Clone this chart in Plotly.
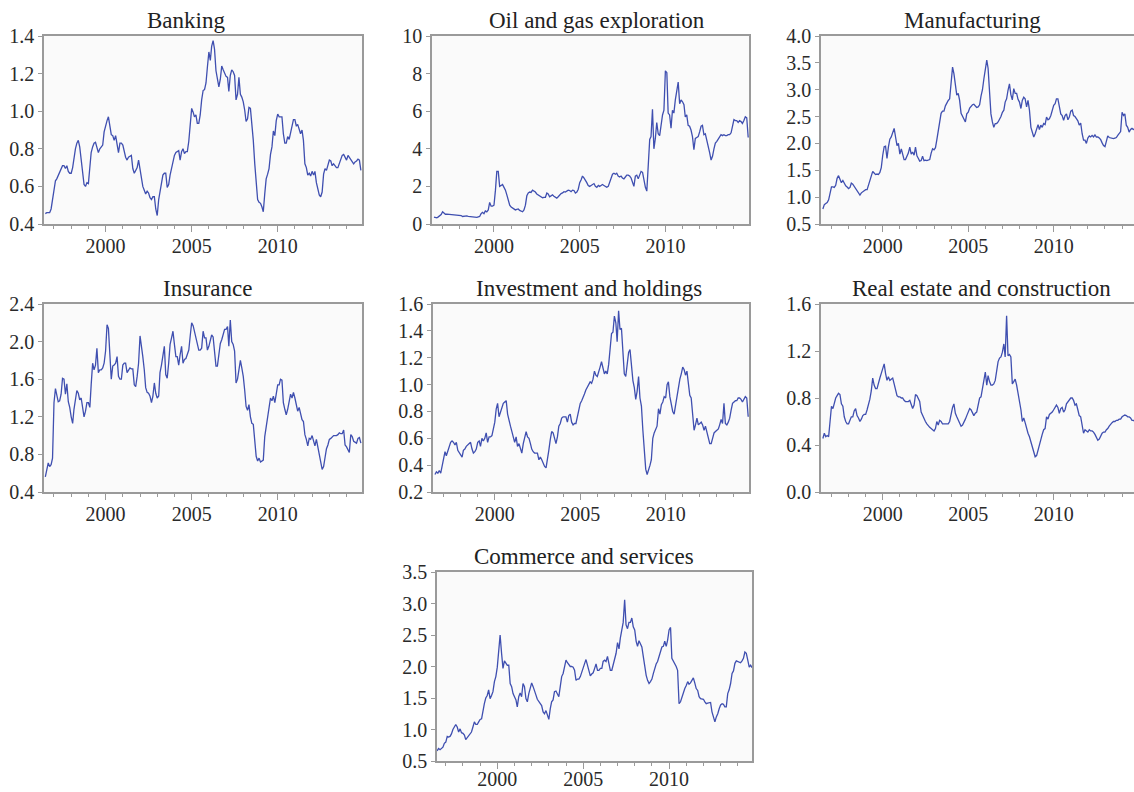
import pandas as pd
import plotly.graph_objects as go

# ---------------- data (monthly, Jul 1996 - Nov 2014) ----------------
start_month = "1996-07-01"

banking = [
    0.455, 0.46, 0.46, 0.46, 0.48, 0.53,
    0.58, 0.63, 0.64, 0.66, 0.67, 0.70, 0.71, 0.71, 0.695, 0.71, 0.68, 0.67,
    0.67, 0.70, 0.76, 0.80, 0.83, 0.845, 0.81, 0.75, 0.66, 0.61, 0.60, 0.62,
    0.615, 0.685, 0.78, 0.81, 0.83, 0.835, 0.80, 0.78, 0.80, 0.81, 0.82, 0.89,
    0.925, 0.95, 0.97, 0.915, 0.875, 0.87, 0.845, 0.87, 0.81, 0.78, 0.83, 0.83,
    0.82, 0.785, 0.755, 0.74, 0.755, 0.76, 0.765, 0.695, 0.67, 0.685, 0.70, 0.74,
    0.69, 0.64, 0.60, 0.58, 0.56, 0.575, 0.565, 0.54, 0.53, 0.545, 0.545, 0.48,
    0.445, 0.53, 0.57, 0.62, 0.66, 0.67, 0.67, 0.595, 0.61, 0.66, 0.70, 0.73,
    0.765, 0.78, 0.785, 0.79, 0.74, 0.785, 0.80, 0.775, 0.785, 0.785, 0.84, 0.935,
    1.015, 0.995, 0.97, 0.98, 0.935, 0.935, 0.98, 1.06, 1.11, 1.115, 1.15, 1.235,
    1.315, 1.27, 1.345, 1.375, 1.33, 1.215, 1.165, 1.13, 1.17, 1.24, 1.22, 1.20,
    1.185, 1.18, 1.105, 1.19, 1.22, 1.21, 1.19, 1.06, 1.09, 1.18, 1.09, 1.075,
    1.05, 1.005, 0.945, 0.96, 1.02, 1.015, 0.935, 0.845, 0.72, 0.605, 0.53, 0.515,
    0.51, 0.49, 0.465, 0.56, 0.64, 0.665, 0.695, 0.77, 0.81, 0.895, 0.87, 0.95,
    0.985, 0.97, 0.97, 0.97, 0.88, 0.83, 0.83, 0.865, 0.85, 0.88, 0.915, 0.955,
    0.955, 0.92, 0.93, 0.90, 0.88, 0.90, 0.845, 0.72, 0.70, 0.66, 0.67, 0.655,
    0.68, 0.66, 0.68, 0.62, 0.58, 0.555, 0.545, 0.57, 0.665, 0.695, 0.685, 0.72,
    0.74, 0.735, 0.71, 0.72, 0.71, 0.70, 0.70, 0.72, 0.745, 0.765, 0.77, 0.75,
    0.74, 0.765, 0.755, 0.74, 0.735, 0.72, 0.73, 0.735, 0.745, 0.74, 0.685,
]

oil_gas = [
    0.37, 0.33, 0.33, 0.38, 0.45, 0.50,
    0.65, 0.55, 0.52, 0.53, 0.52, 0.50, 0.50, 0.49, 0.48, 0.48, 0.47, 0.45,
    0.42, 0.45, 0.40, 0.42, 0.44, 0.43, 0.41, 0.40, 0.38, 0.37, 0.38, 0.38,
    0.35, 0.38, 0.40, 0.55, 0.62, 0.55, 0.70, 0.65, 0.75, 1.15, 0.95, 0.95,
    1.0, 1.8, 2.8, 2.8, 2.0, 2.05, 2.1, 1.95, 1.8, 1.55, 1.3, 1.0,
    0.90, 0.85, 0.80, 0.75, 0.78, 0.80, 0.72, 0.70, 0.65, 0.75, 1.0, 1.5,
    1.65, 1.70, 1.68, 1.80, 1.75, 1.70, 1.60, 1.55, 1.50, 1.45, 1.40, 1.42,
    1.42, 1.65, 1.60, 1.45, 1.52, 1.55, 1.48, 1.42, 1.38, 1.45, 1.55, 1.62,
    1.65, 1.72, 1.70, 1.75, 1.80, 1.78, 1.72, 1.80, 1.78, 1.65, 1.70, 1.85,
    2.2, 2.35, 2.55, 2.45, 2.35, 2.2, 2.05, 2.0, 2.05, 2.1, 2.15, 2.0,
    1.95, 2.05, 2.0, 2.05, 2.1, 2.05, 2.0, 1.95, 2.0, 2.2, 2.35, 2.65,
    2.7, 2.65, 2.7, 2.55, 2.5, 2.55, 2.45, 2.4, 2.5, 2.6, 2.6, 2.55,
    2.45, 2.2, 2.0, 2.55, 2.6, 2.4, 2.65, 2.8, 2.75, 2.3, 1.95, 1.75,
    3.0, 4.5, 4.65, 6.1, 4.0, 4.55, 5.4, 4.8, 4.7, 5.35, 5.8, 6.05,
    8.15, 8.05, 5.9, 5.8, 5.1, 6.05, 5.9, 6.6, 7.1, 7.55, 6.4, 6.6,
    6.5, 6.35, 5.7, 5.8, 5.25, 5.2, 5.0, 4.65, 3.95, 4.55, 4.6, 4.65,
    4.9, 5.2, 5.25, 4.75, 4.8, 4.5, 4.1, 3.8, 3.4, 3.6, 4.0, 4.3,
    4.4, 4.55, 4.6, 4.75, 4.7, 4.75, 4.7, 4.7, 4.75, 4.75, 4.85, 5.25,
    5.55, 5.5, 5.5, 5.4, 5.5, 5.45, 5.35, 5.5, 5.7, 5.65, 4.6,
]

manufacturing = [
    0.78, 0.86, 0.88, 0.90, 0.95, 1.08,
    1.19, 1.19, 1.18, 1.22, 1.35, 1.40, 1.32, 1.27, 1.31, 1.25, 1.21, 1.19,
    1.16, 1.18, 1.26, 1.24, 1.20, 1.17, 1.13, 1.10, 1.04, 1.08, 1.10, 1.13,
    1.14, 1.14, 1.22, 1.31, 1.40, 1.48, 1.45, 1.42, 1.43, 1.42, 1.46, 1.55,
    1.78, 1.94, 1.95, 1.72, 1.93, 2.08, 2.12, 2.21, 2.28, 2.12, 1.96, 2.00,
    1.80, 1.90, 1.81, 1.70, 1.70, 1.75, 1.82, 1.93, 1.80, 1.84, 1.78, 1.93,
    1.77, 1.72, 1.67, 1.68, 1.76, 1.68, 1.69, 1.68, 1.69, 1.70, 1.82, 1.90,
    1.88, 1.92, 2.06, 2.24, 2.40, 2.56, 2.60, 2.60, 2.70, 2.76, 2.80, 2.83,
    3.08, 3.42, 3.30, 3.10, 2.90, 2.93, 2.80, 2.56, 2.50, 2.46, 2.40, 2.55,
    2.58, 2.66, 2.70, 2.72, 2.73, 2.70, 2.67, 2.68, 2.72, 2.88, 3.00, 3.20,
    3.36, 3.55, 3.40, 3.00, 2.55, 2.40, 2.30, 2.37, 2.37, 2.40, 2.44, 2.50,
    2.58, 2.62, 2.77, 2.83, 2.99, 3.11, 2.91, 2.81, 3.02, 2.93, 2.93, 2.82,
    2.77, 2.65, 2.80, 2.86, 2.83, 2.68, 2.80, 2.62, 2.30, 2.18, 2.12, 2.18,
    2.27, 2.35, 2.26, 2.34, 2.30, 2.37, 2.35, 2.49, 2.44, 2.46, 2.52, 2.60,
    2.71, 2.74, 2.83, 2.83, 2.71, 2.55, 2.52, 2.43, 2.52, 2.55, 2.44, 2.49,
    2.60, 2.62, 2.52, 2.50, 2.46, 2.42, 2.34, 2.38, 2.18, 2.06, 2.06, 2.00,
    2.10, 2.14, 2.12, 2.15, 2.12, 2.16, 2.12, 2.12, 2.10, 2.07, 2.01, 1.96,
    1.94, 2.05, 2.14, 2.11, 2.10, 2.09, 2.09, 2.10, 2.11, 2.15, 2.20, 2.22,
    2.58, 2.52, 2.55, 2.34, 2.30, 2.21, 2.26, 2.28, 2.26, 2.27, 2.28,
]

insurance = [
    0.56, 0.66, 0.71, 0.67, 0.69, 0.76,
    1.35, 1.50, 1.42, 1.36, 1.37, 1.44, 1.61, 1.60, 1.44, 1.55, 1.36, 1.30,
    1.20, 1.13, 1.28, 1.40, 1.48, 1.45, 1.38, 1.40, 1.31, 1.20, 1.26, 1.35,
    1.35, 1.30, 1.54, 1.77, 1.70, 1.75, 1.93, 1.67, 1.70, 1.70, 1.72, 1.77,
    1.90, 2.18, 2.14, 1.88, 1.60, 1.74, 1.75, 1.77, 1.84, 1.63, 1.60, 1.60,
    1.75, 1.77, 1.77, 1.67, 1.70, 1.72, 1.71, 1.71, 1.54, 1.52, 1.63, 1.77,
    2.06, 1.96, 1.84, 1.70, 1.51, 1.46, 1.45, 1.42, 1.35, 1.42, 1.56, 1.45,
    1.40, 1.42, 1.67, 1.75, 1.86, 1.95, 1.65, 1.61, 1.77, 1.97, 2.04, 2.11,
    1.97, 1.84, 1.84, 1.75, 1.86, 1.95, 1.77, 1.81, 1.82, 1.86, 1.91, 2.06,
    2.20, 2.17, 2.11, 2.04, 2.00, 1.91, 1.91, 1.93, 2.11, 2.04, 2.04, 1.91,
    1.95, 2.00, 2.07, 2.05, 1.86, 1.74, 1.74, 1.88, 1.98, 2.02, 2.07, 2.13,
    2.13, 2.16, 1.95, 2.23, 2.00, 1.97, 1.90, 1.56, 1.60, 1.72, 1.80, 1.72,
    1.63, 1.48, 1.31, 1.27, 1.33, 1.20, 1.13, 1.12, 0.96, 0.78, 0.73, 0.76,
    0.72, 0.73, 0.74, 0.99, 1.08, 1.20, 1.31, 1.40, 1.37, 1.42, 1.35, 1.44,
    1.54, 1.54, 1.60, 1.59, 1.35, 1.28, 1.22, 1.28, 1.35, 1.44, 1.40, 1.46,
    1.40, 1.31, 1.26, 1.30, 1.24, 1.17, 1.15, 1.01, 0.96, 0.89, 0.97, 0.96,
    1.00, 0.95, 0.89, 0.96, 0.88, 0.80, 0.69, 0.64, 0.67, 0.78, 0.86, 0.90,
    0.96, 0.97, 0.99, 1.00, 1.00, 1.00, 1.01, 1.03, 1.02, 1.02, 1.06, 0.90,
    0.88, 0.84, 0.82, 1.01, 0.99, 0.94, 0.93, 0.92, 0.97, 0.98, 0.92,
]

investment = [
    0.33, 0.35, 0.34, 0.36, 0.34, 0.39,
    0.44, 0.50, 0.47, 0.50, 0.54, 0.57, 0.58, 0.57, 0.55, 0.57, 0.51, 0.49,
    0.47, 0.46, 0.51, 0.52, 0.54, 0.55, 0.56, 0.57, 0.52, 0.49, 0.50, 0.52,
    0.57, 0.58, 0.54, 0.60, 0.58, 0.60, 0.64, 0.57, 0.61, 0.61, 0.62, 0.66,
    0.72, 0.82, 0.86, 0.76, 0.79, 0.83, 0.86, 0.87, 0.88, 0.78, 0.72, 0.69,
    0.65, 0.60, 0.57, 0.61, 0.54, 0.56, 0.52, 0.49, 0.56, 0.61, 0.65, 0.61,
    0.60, 0.56, 0.52, 0.50, 0.49, 0.49, 0.49, 0.44, 0.46, 0.44, 0.41, 0.39,
    0.38, 0.44, 0.51, 0.59, 0.65, 0.64, 0.59, 0.56, 0.61, 0.69, 0.71, 0.75,
    0.76, 0.76, 0.76, 0.72, 0.77, 0.78, 0.72, 0.70, 0.71, 0.71, 0.76, 0.82,
    0.86, 0.88, 0.90, 0.93, 0.96, 0.98, 0.99, 1.02, 1.01, 1.04, 1.10, 1.07,
    1.06, 1.11, 1.13, 1.17, 1.11, 1.08, 1.10, 1.08, 1.15, 1.28, 1.38, 1.39,
    1.51, 1.46, 1.32, 1.55, 1.41, 1.42, 1.25, 1.08, 1.06, 1.18, 1.24, 1.26,
    1.11, 1.03, 0.98, 0.89, 0.95, 1.06, 0.90, 0.84, 0.66, 0.50, 0.37, 0.33,
    0.36, 0.40, 0.44, 0.60, 0.64, 0.67, 0.69, 0.82, 0.78, 0.85, 0.87, 0.91,
    0.90, 1.00, 1.02, 0.91, 0.85, 0.80, 0.78, 0.85, 0.92, 0.99, 1.04, 1.08,
    1.13, 1.11, 1.07, 1.10, 1.02, 0.92, 0.90, 0.80, 0.66, 0.70, 0.75, 0.70,
    0.71, 0.72, 0.70, 0.66, 0.69, 0.64, 0.59, 0.56, 0.56, 0.60, 0.64, 0.65,
    0.66, 0.67, 0.70, 0.74, 0.71, 0.86, 0.71, 0.70, 0.72, 0.75, 0.81, 0.86,
    0.87, 0.88, 0.88, 0.90, 0.90, 0.89, 0.87, 0.89, 0.91, 0.90, 0.76,
]

real_estate = [
    0.455, 0.50, 0.47, 0.48, 0.47, 0.60,
    0.73, 0.71, 0.76, 0.80, 0.82, 0.84, 0.83, 0.75, 0.73, 0.64, 0.60, 0.58,
    0.58, 0.61, 0.64, 0.64, 0.69, 0.71, 0.65, 0.63, 0.60, 0.62, 0.65, 0.66,
    0.66, 0.70, 0.74, 0.79, 0.86, 0.97, 0.91, 0.88, 0.88, 0.94, 0.97, 1.01,
    1.06, 1.09, 1.01, 0.95, 0.98, 0.95, 0.96, 0.97, 0.92, 0.87, 0.82, 0.81,
    0.81, 0.80, 0.80, 0.78, 0.77, 0.77, 0.77, 0.78, 0.74, 0.71, 0.74, 0.83,
    0.82, 0.80, 0.77, 0.68, 0.65, 0.63, 0.60, 0.58, 0.56, 0.55, 0.54, 0.53,
    0.52, 0.54, 0.60, 0.57, 0.61, 0.60, 0.58, 0.58, 0.58, 0.58, 0.58, 0.60,
    0.68, 0.72, 0.75, 0.67, 0.64, 0.61, 0.58, 0.56, 0.57, 0.59, 0.62, 0.65,
    0.68, 0.71, 0.70, 0.68, 0.65, 0.67, 0.68, 0.74, 0.80, 0.81, 0.88, 0.97,
    1.02, 0.91, 0.99, 0.94, 0.91, 0.91, 0.92, 0.95, 1.04, 1.11, 1.14, 1.15,
    1.19, 1.26, 1.15, 1.50, 1.16, 1.17, 1.15, 0.92, 0.94, 0.96, 0.91, 0.84,
    0.78, 0.70, 0.60, 0.63, 0.59, 0.53, 0.50, 0.47, 0.43, 0.38, 0.33, 0.30,
    0.31, 0.36, 0.41, 0.45, 0.49, 0.53, 0.54, 0.64, 0.62, 0.66, 0.67, 0.68,
    0.70, 0.72, 0.74, 0.72, 0.67, 0.71, 0.72, 0.68, 0.70, 0.75, 0.77, 0.78,
    0.80, 0.80, 0.78, 0.74, 0.75, 0.70, 0.65, 0.64, 0.55, 0.50, 0.53, 0.52,
    0.51, 0.53, 0.52, 0.52, 0.51, 0.49, 0.47, 0.44, 0.45, 0.48, 0.50, 0.51,
    0.51, 0.53, 0.54, 0.56, 0.58, 0.59, 0.60, 0.60, 0.61, 0.61, 0.62, 0.62,
    0.64, 0.65, 0.655, 0.65, 0.64, 0.64, 0.63, 0.61, 0.61, 0.60, 0.60,
]

commerce = [
    0.66, 0.70, 0.68, 0.70, 0.72, 0.78,
    0.80, 0.89, 0.88, 0.89, 0.93, 1.00, 1.04, 1.08, 1.04, 0.96, 1.01, 0.95,
    0.94, 0.91, 0.84, 0.87, 0.91, 0.93, 0.96, 1.04, 1.12, 1.08, 1.08, 1.12,
    1.16, 1.17, 1.30, 1.41, 1.50, 1.54, 1.63, 1.49, 1.54, 1.60, 1.76, 1.84,
    1.99, 2.26, 2.50, 2.21, 1.97, 2.09, 2.05, 2.02, 2.02, 1.73, 1.68, 1.57,
    1.52, 1.47, 1.36, 1.52, 1.58, 1.52, 1.73, 1.68, 1.49, 1.44, 1.57, 1.65,
    1.74, 1.68, 1.63, 1.55, 1.48, 1.44, 1.41, 1.38, 1.28, 1.25, 1.30, 1.23,
    1.16, 1.33, 1.44, 1.47, 1.60, 1.61, 1.55, 1.52, 1.68, 1.84, 1.89, 2.00,
    2.10, 2.06, 2.02, 2.00, 2.00, 1.99, 1.94, 1.78, 1.80, 1.80, 1.84, 1.92,
    1.97, 2.05, 2.11, 2.02, 1.94, 1.85, 1.88, 1.90, 1.97, 2.04, 1.94, 1.94,
    1.97, 1.97, 2.08, 2.10, 2.08, 2.16, 2.05, 1.94, 1.94, 2.02, 2.10, 2.21,
    2.38, 2.28, 2.45, 2.60, 2.70, 3.06, 2.66, 2.60, 2.70, 2.70, 2.77, 2.63,
    2.58, 2.40, 2.32, 2.41, 2.37, 2.31, 2.16, 2.00, 1.86, 1.78, 1.73, 1.76,
    1.80, 1.89, 1.97, 2.04, 2.08, 2.16, 2.24, 2.31, 2.32, 2.40, 2.32, 2.42,
    2.58, 2.62, 2.13, 2.09, 2.05, 2.00, 1.94, 1.41, 1.44, 1.52, 1.60, 1.65,
    1.70, 1.76, 1.72, 1.74, 1.78, 1.82, 1.74, 1.65, 1.62, 1.52, 1.49, 1.49,
    1.48, 1.44, 1.41, 1.42, 1.43, 1.43, 1.28, 1.20, 1.12, 1.20, 1.25, 1.33,
    1.39, 1.41, 1.40, 1.36, 1.36, 1.57, 1.63, 1.73, 1.89, 1.93, 2.05, 2.09,
    2.08, 2.08, 2.06, 2.09, 2.13, 2.23, 2.21, 2.10, 1.99, 2.02, 1.98,
]

titles = ["Banking", "Oil and gas exploration", "Manufacturing", "Insurance",
          "Investment and holdings", "Real estate and construction",
          "Commerce and services"]
series = [banking, oil_gas, manufacturing, insurance, investment, real_estate, commerce]
y_ranges = [(0.4, 1.4), (0, 10), (0.5, 4.0), (0.4, 2.4), (0.2, 1.6), (0.0, 1.6), (0.5, 3.5)]
y_steps = [0.2, 2, 0.5, 0.4, 0.2, 0.4, 0.5]
y_formats = [".1f", "d", ".1f", ".1f", ".1f", ".1f", ".1f"]

# ---------------- layout (pixel boxes in the 1134x792 canvas) ----------------
W, H = 1134, 792
# left, right, top, bottom
boxes = [
    (44, 362, 36, 224), (432, 749, 36, 224), (821, 1134, 36, 224),
    (44, 362, 304, 492), (433, 749, 304, 492), (821, 1134, 304, 492),
    (437, 752, 572, 761),
]
x_ranges = [
    ("1996-06-03", "2014-11-25"), ("1996-05-20", "2014-11-18"), ("1996-05-22", "2014-09-13"),
    ("1996-06-03", "2014-11-25"), ("1996-05-20", "2014-11-18"), ("1996-05-22", "2014-09-13"),
    ("1996-06-28", "2014-10-30"),
]
label_standoff = [-3, -3, -3, -3, -3, -3, -7]
title_pos = [(186, 21), (597, 21), (972, 21), (207, 288), (589, 288), (981, 288), (584, 556)]

LINE = "#3f4fb0"
FRAME = "#9a9a9a"
FONT = "Liberation Serif"

dates = pd.date_range(start_month, periods=len(banking), freq="MS")

fig = go.Figure()
annotations = []
for i, (name, vals) in enumerate(zip(titles, series)):
    k = "" if i == 0 else str(i + 1)
    l, r, t, b = boxes[i]
    fig.add_trace(go.Scatter(
        x=dates[:len(vals)], y=vals, mode="lines",
        line=dict(color=LINE, width=1.3),
        xaxis="x" + k, yaxis="y" + k, showlegend=False, hoverinfo="skip"))
    common = dict(showline=True, mirror=True, linecolor=FRAME, linewidth=1.5,
                  ticks="outside", tickwidth=1.2, tickcolor=FRAME,
                  showgrid=False, zeroline=False, automargin=False,
                  tickfont=dict(family=FONT, size=20, color="#2a2a2a"))
    fig.layout["xaxis" + k] = dict(
        common, type="date", domain=[l / W, r / W], anchor="y" + k, ticklen=6,
        ticklabelstandoff=label_standoff[i],
        range=list(x_ranges[i]), tick0="2000-01-01", dtick="M60", tickformat="%Y",
        minor=dict(ticks="outside", ticklen=3.5, dtick="M12", tick0="2000-01-01",
                   tickcolor=FRAME, tickwidth=1.2))
    y0, y1 = y_ranges[i]
    fig.layout["yaxis" + k] = dict(
        common, domain=[1 - b / H, 1 - t / H], anchor="x" + k, ticklen=4,
        range=[y0, y1], tick0=y0, dtick=y_steps[i], tickformat=y_formats[i])
    tx, ty = title_pos[i]
    annotations.append(dict(text=name, x=tx / W, y=1 - ty / H, xref="paper", yref="paper",
                            xanchor="center", yanchor="middle", showarrow=False,
                            font=dict(family=FONT, size=23, color="#222222")))

fig.update_layout(width=W, height=H,
                  margin=dict(l=0, r=0, t=0, b=0, pad=0, autoexpand=False),
                  paper_bgcolor="white", plot_bgcolor="#fafafa",
                  annotations=annotations)
fig.write_html("out.html", config={"displayModeBar": False},
               post_script="document.body.style.margin='0px';document.body.style.overflow='hidden';")
